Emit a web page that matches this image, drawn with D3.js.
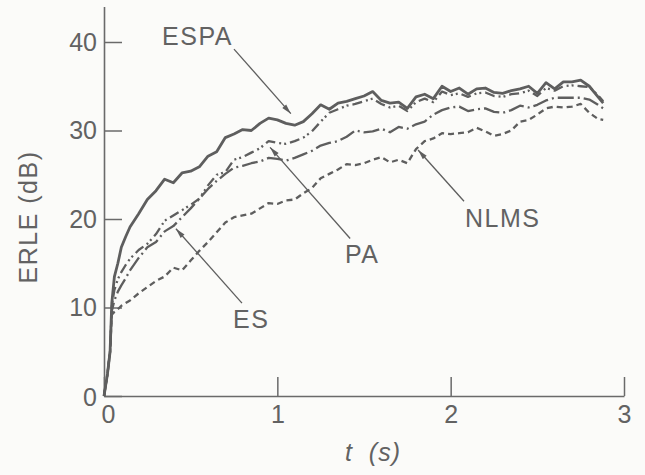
<!DOCTYPE html>
<html>
<head>
<meta charset="utf-8">
<script src="https://cdn.jsdelivr.net/npm/d3@7"></script>
<style>
  body { margin: 0; background: #fbfbf9; }
  text { font-family: "Liberation Sans", Arial, sans-serif; fill: #626262; }
</style>
</head>
<body>
<div id="chart"></div>
<script>
// time samples (s), shared by all four curves
var tValues = [0, 0.02, 0.035, 0.045, 0.06, 0.08, 0.1, 0.125,
  0.15, 0.2, 0.25, 0.3, 0.35, 0.4, 0.45, 0.5, 0.55, 0.6,
  0.65, 0.7, 0.75, 0.8, 0.85, 0.9, 0.95, 1.0, 1.05, 1.1,
  1.15, 1.2, 1.25, 1.3, 1.35, 1.4, 1.45, 1.5, 1.55, 1.6,
  1.65, 1.7, 1.75, 1.8, 1.85, 1.9, 1.95, 2.0, 2.05, 2.1,
  2.15, 2.2, 2.25, 2.3, 2.35, 2.4, 2.45, 2.5, 2.55, 2.6,
  2.65, 2.7, 2.75, 2.8, 2.85, 2.88];

// ERLE (dB)
var espaValues = [0, 2.5, 5, 10.5, 13.5, 15, 16.8, 18,
  19.1, 20.6, 22.2, 23.2, 24.5, 24.1, 25.2, 25.4, 25.9, 27.1,
  27.6, 29.2, 29.6, 30.1, 30.0, 30.8, 31.4, 31.2, 30.8, 30.6,
  31.0, 31.9, 32.9, 32.4, 33.1, 33.3, 33.6, 33.9, 34.4, 33.4,
  33.1, 33.2, 32.5, 33.8, 34.1, 33.6, 35.0, 34.4, 34.8, 34.1,
  34.7, 34.8, 34.3, 34.2, 34.5, 34.7, 35.0, 34.2, 35.4, 34.7,
  35.5, 35.5, 35.7, 35.0, 33.8, 33.1];

var paValues = [0, 2.5, 5, 10.2, 12.0, 13.2, 14.0, 14.8,
  15.5, 16.5, 17.2, 18.3, 19.8, 20.4, 21.0, 21.6, 22.3, 23.8,
  25.0, 25.3, 26.7, 27.0, 27.5, 28.0, 28.8, 28.6, 28.5, 28.8,
  29.2, 29.9, 31.0, 32.0, 32.4, 32.8, 33.0, 33.3, 33.6, 33.0,
  32.6, 32.8, 32.2, 33.2, 33.6, 33.2, 34.4, 34.0, 34.2, 33.8,
  34.2, 34.3, 33.9, 33.8, 34.1, 34.2, 34.5, 33.9, 34.8, 34.5,
  35.0, 35.1, 35.0, 34.9, 34.0, 33.3];

var esValues = [0, 2.5, 5, 9.6, 10.8, 11.8, 12.5, 13.3,
  14.2, 15.6, 16.8, 17.4, 18.6, 19.2, 20.2, 21.2, 22.3, 23.4,
  24.3, 25.1, 25.8, 26.0, 26.3, 26.5, 26.9, 26.8, 26.6, 26.9,
  27.3, 27.7, 28.3, 28.6, 28.8, 29.3, 30.0, 29.8, 29.9, 30.2,
  29.8, 30.4, 30.2, 30.7, 31.0, 31.8, 32.3, 32.6, 32.7, 32.2,
  32.4, 32.5, 32.1, 32.0, 32.3, 32.8, 32.6, 32.9, 33.4, 33.7,
  33.7, 33.7, 33.7, 33.5, 32.9, 32.5];

var nlmsValues = [0, 2.5, 5, 9.2, 9.5, 9.8, 10.2, 10.5,
  10.8, 11.6, 12.3, 13.0, 13.5, 14.5, 14.2, 15.3, 16.4, 17.4,
  18.5, 19.6, 20.2, 20.4, 20.6, 21.2, 21.8, 21.7, 22.1, 22.2,
  22.9, 23.5, 24.6, 25.1, 25.6, 26.2, 26.1, 26.3, 26.7, 27.0,
  26.4, 26.7, 26.3, 27.9, 28.8, 29.1, 29.7, 29.6, 29.7, 29.8,
  30.3, 29.9, 29.4, 29.6, 30.0, 31.0, 31.2, 31.8, 32.5, 32.7,
  32.6, 32.7, 33.0, 32.0, 31.3, 31.2];

var seriesNames = ["ESPA", "PA", "ES", "NLMS"];
var xTicks = [0, 1, 2, 3];
var yTicks = [0, 10, 20, 30, 40];

// svg size
var svgWidth = 645;
var svgHeight = 475;

var svg = d3.select("#chart")
  .append("svg")
  .attr("width", svgWidth)
  .attr("height", svgHeight);

// scales
var xScale = d3.scaleLinear()
  .domain([0, 3])
  .range([104, 624]);

var yScale = d3.scaleLinear()
  .domain([0, 44])
  .range([396, 6.6]);

var ink = "#5e5e5e";

// axes, ticks pointing inward
var xAxis = d3.axisBottom(xScale)
  .tickValues(xTicks)
  .tickSizeInner(-19)
  .tickSizeOuter(0)
  .tickPadding(9)
  .tickFormat(d3.format("d"));

var yAxis = d3.axisLeft(yScale)
  .tickValues(yTicks)
  .tickSizeInner(-18)
  .tickSizeOuter(0)
  .tickPadding(7)
  .tickFormat(d3.format("d"));

var xG = svg.append("g")
  .attr("transform", `translate(0, ${yScale(0)})`)
  .call(xAxis);

var yG = svg.append("g")
  .attr("transform", `translate(${xScale(0)}, 0)`)
  .call(yAxis);

[xG, yG].forEach(function(g) {
  g.select(".domain").attr("stroke", "#6a6a6a").attr("stroke-width", 1.6);
  g.selectAll(".tick line").attr("stroke", "#6a6a6a").attr("stroke-width", 1.5);
  g.selectAll(".tick text")
    .attr("font-size", "25px")
    .attr("fill", "#626262")
    .style("font-family", "'Liberation Sans', Arial, sans-serif");
});

// nudge the x "0" label a bit right like the original
xG.selectAll(".tick text").filter(d => d === 0).attr("x", 4);
yG.selectAll(".tick text").filter(d => d === 0).attr("dy", "0.36em");

// axis titles
svg.append("text")
  .attr("transform", "rotate(-90)")
  .attr("x", -217)
  .attr("y", 37)
  .attr("text-anchor", "middle")
  .attr("font-size", "25px")
  .attr("letter-spacing", "1.5px")
  .text("ERLE (dB)");

svg.append("text")
  .attr("x", 345)
  .attr("y", 461)
  .attr("font-size", "25px")
  .attr("font-style", "italic")
  .attr("letter-spacing", "1px")
  .style("white-space", "pre")
  .text("t  (s)");

// curves
var series = [
  { name: "ESPA", values: espaValues, dash: null, width: 2.8 },
  { name: "PA", values: paValues, dash: "10,4,2,3,2,4", width: 2.3 },
  { name: "ES", values: esValues, dash: "16,4,2,4", width: 2.3 },
  { name: "NLMS", values: nlmsValues, dash: "6,4", width: 2.3 }
];

var line = d3.line()
  .x((d, i) => xScale(tValues[i]))
  .y(d => yScale(d));

svg.append("g")
  .selectAll("path")
  .data(series)
  .enter()
  .append("path")
  .attr("d", d => line(d.values))
  .attr("fill", "none")
  .attr("stroke", ink)
  .attr("stroke-width", d => d.width)
  .attr("stroke-linejoin", "round")
  .attr("stroke-dasharray", d => d.dash);

// arrowhead marker
svg.append("defs")
  .append("marker")
  .attr("id", "arrow")
  .attr("markerUnits", "userSpaceOnUse")
  .attr("viewBox", "0 -3 10 6")
  .attr("refX", 10)
  .attr("refY", 0)
  .attr("markerWidth", 11)
  .attr("markerHeight", 6)
  .attr("orient", "auto")
  .append("path")
  .attr("d", "M0,-2.6L10,0L0,2.6Z")
  .attr("fill", ink);

// labels with arrows, in data coordinates (t, dB)
var notes = [
  { name: seriesNames[0], at: [0.335, 39.65], from: [0.75, 39.2], to: [1.078, 31.9] },
  { name: seriesNames[1], at: [1.39, 15.0], from: [1.42, 17.8], to: [0.958, 28.1] },
  { name: seriesNames[2], at: [0.744, 7.7], from: [0.796, 10.5], to: [0.415, 18.9] },
  { name: seriesNames[3], at: [2.083, 19.1], from: [2.077, 22.0], to: [1.812, 27.8] }
];

var noteGroup = svg.append("g");

noteGroup.selectAll("line")
  .data(notes)
  .enter()
  .append("line")
  .attr("x1", d => xScale(d.from[0]))
  .attr("y1", d => yScale(d.from[1]))
  .attr("x2", d => xScale(d.to[0]))
  .attr("y2", d => yScale(d.to[1]))
  .attr("stroke", ink)
  .attr("stroke-width", 1.3)
  .attr("marker-end", "url(#arrow)");

noteGroup.selectAll("text")
  .data(notes)
  .enter()
  .append("text")
  .attr("x", d => xScale(d.at[0]))
  .attr("y", d => yScale(d.at[1]))
  .attr("font-size", "25px")
  .attr("letter-spacing", "1.5px")
  .text(d => d.name);
</script>
</body>
</html>
